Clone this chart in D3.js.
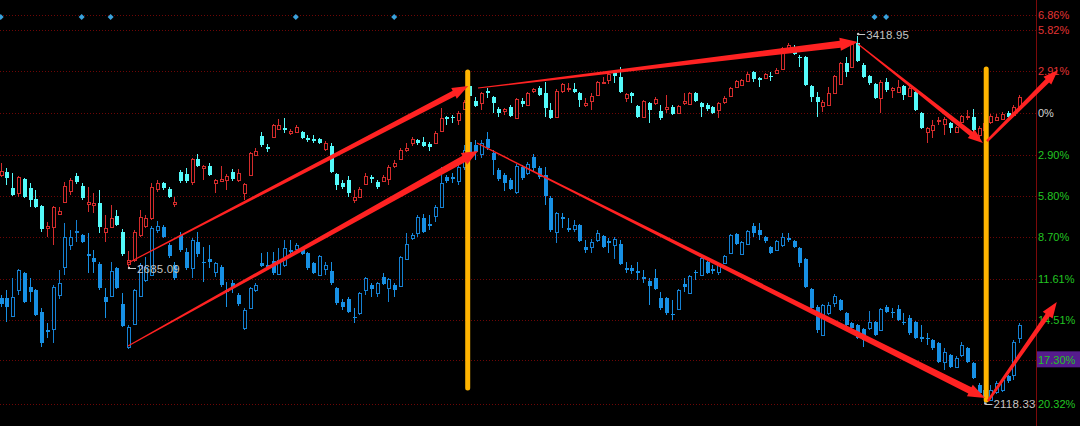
<!DOCTYPE html>
<html>
<head>
<meta charset="utf-8">
<script src="https://cdn.jsdelivr.net/npm/d3@7"></script>
<style>
html, body { margin: 0; padding: 0; background: #000; overflow: hidden; }
</style>
</head>
<body>
<div class="main-container"></div>
<script>
// upper index (red / cyan candles), points
var upO = [2977,2987,2936,2920,2965,2936,2901,2879,2809,2812,
  2853,2892,2927,2974,2942,2885,2882,2888,2796,2812,
  2847,2796,2695,2707,2787,2815,2841,2933,2952,2933,
  2885,2987,2981,2955,3028,3000,3006,2952,2958,2962,
  2987,2962,2920,2977,3041,3101,3066,3098,3124,3127,
  3111,3114,3114,3095,3092,3092,3060,3070,2981,2952,
  2962,2898,2907,2949,2971,2955,2958,2965,3006,3028,
  3057,3079,3089,3082,3076,3079,3117,3162,3162,3152,
  3187,3260,3212,3206,3244,3225,3187,3181,3193,3158,
  3212,3200,3244,3254,3238,3184,3162,3244,3251,3251,
  3238,3200,3212,3232,3270,3279,3301,3289,3222,3238,
  3197,3162,3206,3206,3181,3187,3193,3174,3206,3203,
  3238,3206,3200,3193,3184,3209,3228,3257,3263,3276,
  3305,3286,3286,3292,3301,3314,3381,3374,3352,3352,
  3260,3225,3197,3200,3238,3266,3333,3320,3397,3327,
  3292,3266,3222,3273,3247,3241,3260,3228,3241,3174,
  3114,3120,3149,3139,3143,3114,3146,3162,3162,3104,
  3120,3146,3152,3155,3174,3168,3190];
var upH = [3016,3000,2984,2974,2968,2952,2930,2882,2828,2879,
  2876,2955,2968,2984,2952,2939,2920,2930,2850,2882,
  2866,2806,2736,2803,2866,2850,2952,2962,2955,2939,
  2907,2993,3000,3031,3044,3009,3016,2965,3006,2981,
  2996,2996,2952,3050,3063,3114,3076,3139,3155,3158,
  3124,3136,3117,3104,3104,3095,3085,3079,2984,2962,
  2974,2930,2939,2984,2977,2962,2977,3009,3025,3063,
  3079,3098,3092,3098,3082,3117,3190,3165,3168,3181,
  3216,3279,3225,3241,3254,3228,3193,3190,3200,3222,
  3222,3241,3254,3260,3273,3206,3251,3270,3270,3270,
  3241,3222,3238,3276,3289,3305,3311,3320,3238,3241,
  3200,3216,3209,3225,3200,3232,3200,3200,3238,3241,
  3241,3209,3206,3197,3209,3228,3257,3279,3282,3305,
  3308,3289,3301,3305,3317,3384,3397,3390,3359,3355,
  3263,3241,3216,3257,3295,3336,3352,3397,3418.95,3333,
  3295,3270,3279,3286,3257,3279,3263,3260,3247,3178,
  3130,3152,3162,3162,3146,3133,3168,3184,3187,3133,
  3149,3171,3171,3178,3181,3200,3232];
var upL = [2971,2946,2911,2907,2904,2876,2873,2796,2780,2755,
  2850,2888,2914,2949,2898,2860,2857,2793,2765,2809,
  2815,2720,2685.09,2701,2780,2809,2834,2923,2930,2904,
  2876,2952,2952,2946,3003,2962,2974,2920,2955,2930,
  2958,2955,2898,2974,3038,3066,3050,3095,3120,3111,
  3104,3111,3092,3082,3079,3076,3054,2984,2930,2933,
  2907,2888,2904,2946,2952,2933,2955,2946,3000,3025,
  3050,3070,3073,3066,3054,3076,3114,3136,3143,3136,
  3184,3216,3193,3184,3222,3174,3162,3168,3162,3155,
  3193,3197,3238,3228,3162,3155,3158,3238,3241,3238,
  3193,3193,3184,3228,3266,3266,3270,3238,3209,3206,
  3158,3158,3143,3200,3152,3174,3168,3171,3200,3200,
  3209,3162,3181,3171,3158,3203,3225,3254,3260,3273,
  3273,3257,3282,3276,3298,3311,3374,3359,3320,3260,
  3209,3162,3178,3197,3235,3263,3289,3317,3336,3286,
  3263,3219,3174,3241,3222,3238,3216,3225,3181,3124,
  3079,3095,3136,3104,3111,3111,3143,3152,3114,3095,
  3095,3139,3149,3152,3158,3165,3187];
var upC = [2990,2968,2914,2971,2907,2898,2876,2806,2815,2876,
  2863,2942,2962,2955,2904,2892,2888,2812,2809,2841,
  2819,2726,2707,2796,2844,2841,2939,2952,2936,2907,
  2892,2958,2958,3028,3006,3006,2977,2962,2965,2974,
  2965,2984,2949,3047,3054,3073,3060,3136,3136,3120,
  3117,3130,3095,3089,3085,3079,3079,2987,2946,2939,
  2920,2907,2933,2974,2965,2939,2971,3003,3016,3057,
  3063,3092,3079,3070,3066,3111,3158,3155,3158,3174,
  3209,3228,3197,3238,3238,3206,3174,3187,3165,3219,
  3203,3238,3251,3232,3190,3158,3244,3266,3254,3241,
  3216,3206,3228,3273,3273,3298,3292,3241,3235,3228,
  3162,3212,3184,3219,3158,3193,3171,3197,3212,3238,
  3212,3193,3187,3174,3206,3222,3254,3276,3279,3298,
  3282,3279,3298,3289,3311,3381,3390,3362,3349,3263,
  3225,3209,3209,3238,3292,3333,3305,3394,3339,3289,
  3270,3222,3273,3247,3254,3257,3232,3254,3184,3127,
  3127,3136,3152,3155,3127,3130,3165,3165,3120,3127,
  3143,3165,3162,3171,3162,3193,3225];

// lower index (blue candles), points
var lowO = [2315,2315,2281,2330,2361,2335,2330,2289,2255,2257,
  2320,2372,2413,2437,2432,2397,2389,2378,2317,2318,
  2371,2304,2224,2266,2318,2348,2358,2441,2447,2413,
  2376,2432,2400,2371,2419,2382,2387,2363,2372,2330,
  2343,2320,2259,2296,2330,2380,2376,2384,2359,2376,
  2404,2406,2408,2398,2380,2358,2369,2365,2333,2307,
  2313,2279,2287,2330,2339,2324,2354,2333,2339,2337,
  2387,2426,2436,2463,2452,2467,2484,2540,2540,2532,
  2558,2605,2599,2582,2610,2584,2553,2543,2534,2512,
  2558,2547,2577,2556,2543,2501,2437,2465,2445,2443,
  2450,2410,2410,2423,2430,2421,2413,2415,2371,2371,
  2365,2354,2346,2352,2315,2315,2285,2294,2341,2324,
  2363,2358,2382,2369,2363,2380,2398,2434,2397,2415,
  2449,2441,2428,2410,2404,2413,2426,2421,2408,2387,
  2331,2298,2246,2287,2305,2311,2287,2268,2265,2257,
  2259,2270,2255,2298,2289,2294,2270,2278,2270,2242,
  2240,2237,2231,2196,2209,2186,2209,2222,2194,2153,
  2144,2125,2140,2144,2170,2172,2240];
var lowH = [2320,2330,2352,2369,2363,2352,2331,2296,2268,2339,
  2367,2454,2441,2460,2434,2436,2404,2382,2333,2382,
  2372,2324,2265,2331,2380,2391,2449,2458,2450,2417,
  2382,2437,2408,2426,2437,2410,2413,2382,2376,2345,
  2348,2324,2296,2335,2343,2398,2400,2400,2408,2423,
  2423,2417,2410,2400,2382,2395,2382,2382,2335,2313,
  2317,2296,2326,2354,2343,2345,2361,2352,2343,2393,
  2436,2436,2469,2471,2469,2488,2558,2543,2547,2562,
  2599,2622,2608,2608,2623,2590,2556,2547,2538,2564,
  2562,2568,2582,2560,2558,2504,2475,2473,2463,2460,
  2452,2423,2424,2441,2432,2426,2428,2423,2382,2376,
  2382,2367,2352,2369,2326,2317,2311,2331,2352,2357,
  2367,2391,2384,2376,2380,2395,2434,2436,2421,2441,
  2454,2454,2430,2411,2423,2436,2436,2423,2410,2389,
  2333,2302,2304,2307,2322,2313,2289,2270,2266,2259,
  2291,2272,2296,2302,2296,2302,2287,2283,2272,2265,
  2250,2239,2233,2222,2211,2207,2233,2224,2196,2157,
  2147,2153,2160,2166,2172,2237,2268];
var lowL = [2298,2270,2279,2320,2305,2307,2281,2224,2240,2231,
  2313,2357,2404,2419,2417,2361,2361,2330,2278,2317,
  2331,2261,2220,2265,2317,2345,2356,2436,2426,2389,
  2348,2400,2367,2352,2391,2345,2371,2354,2335,2298,
  2324,2300,2255,2294,2326,2372,2371,2358,2358,2372,
  2391,2404,2395,2367,2359,2356,2358,2339,2302,2292,
  2287,2268,2283,2320,2317,2317,2339,2307,2317,2335,
  2385,2423,2428,2436,2441,2456,2482,2529,2529,2525,
  2553,2571,2571,2575,2590,2543,2532,2514,2516,2508,
  2534,2543,2549,2536,2488,2437,2417,2445,2437,2437,
  2419,2398,2398,2419,2408,2398,2387,2376,2361,2359,
  2348,2343,2302,2330,2292,2283,2274,2292,2326,2322,
  2348,2356,2359,2359,2358,2378,2397,2413,2395,2413,
  2428,2423,2417,2397,2402,2410,2419,2408,2372,2333,
  2294,2250,2244,2283,2298,2291,2263,2252,2239,2224,
  2255,2244,2253,2287,2278,2272,2265,2246,2239,2233,
  2227,2218,2194,2181,2185,2185,2205,2194,2164,2134,
  2118.33,2123,2136,2140,2157,2162,2231];
var lowC = [2304,2298,2317,2367,2307,2326,2283,2231,2252,2335,
  2343,2428,2428,2439,2419,2393,2382,2333,2307,2365,
  2333,2263,2261,2330,2376,2372,2445,2449,2428,2393,
  2352,2404,2371,2423,2397,2380,2382,2380,2339,2326,
  2333,2304,2292,2333,2339,2374,2372,2361,2385,2408,
  2400,2413,2397,2371,2361,2393,2376,2343,2305,2298,
  2289,2278,2324,2352,2331,2343,2341,2350,2330,2391,
  2415,2432,2465,2437,2449,2484,2529,2532,2536,2558,
  2590,2581,2586,2603,2594,2571,2536,2529,2517,2560,
  2538,2564,2556,2540,2504,2441,2473,2462,2441,2450,
  2421,2404,2419,2436,2410,2417,2424,2378,2367,2365,
  2361,2350,2337,2331,2296,2287,2283,2330,2335,2356,
  2361,2389,2361,2365,2376,2393,2432,2415,2419,2439,
  2436,2432,2421,2398,2421,2428,2423,2410,2380,2335,
  2296,2255,2302,2302,2318,2292,2265,2259,2240,2237,
  2270,2246,2294,2289,2287,2274,2268,2250,2240,2239,
  2239,2222,2196,2214,2186,2203,2227,2196,2166,2138,
  2129,2144,2157,2162,2160,2233,2265];
var lowBase = 2658.6;   // lower index at 0%

// right axis (percent)
var pctTicks = [6.86, 5.82, 2.91, 0, -2.90, -5.80, -8.70, -11.61, -14.51, -17.30, -20.32];
var currentPct = -17.30;

// event markers (candle index)
var markerIdx = [0, 14, 19, 51, 68, 151, 153];

// extreme labels
var upHighMark = { i: 148, v: 3418.95 };
var upLowMark = { i: 22, v: 2685.09 };
var lowLowMark = { i: 170, v: 2118.33 };

// drawn annotations: [index, pctTop, pctBottom]
var vLines = [[80.7, 2.87, -19.24], [170.3, 3.08, -20.08]];
// arrows: [i0, pct0, i1, pct1, w0, w1, headLen, headWidth]
var arrows = [
  [21.99, -10.49, 80.79, 1.89, 1, 6, 16, 12],
  [22.0, -16.30, 82.48, -2.65, 1, 7, 16, 13],
  [82.48, 1.75, 148.14, 4.97, 1, 7, 18, 13],
  [148.14, 4.83, 169.74, -2.10, 1, 5, 15, 11],
  [170.44, -1.96, 182.7, 3.01, 2.5, 5, 15, 11],
  [82.3, -2.10, 170.1, -19.94, 1, 7, 17, 13],
  [170.6, -20.14, 182.5, -13.22, 2.5, 5, 16, 12]
];

var W = 1080, H = 426, axisX = 1036;
var font = "Liberation Sans, Arial, sans-serif";

var svg = d3.select(".main-container").append("svg")
    .attr("width", W).attr("height", H)
    .style("display", "block").style("background", "#000");

var x = d3.scaleLinear().domain([0, upO.length - 1]).range([0.7, 1019.2]);
var yPct = d3.scaleLinear().domain([-20.32, 6.86]).range([403.5, 15]);
var yUp = d3.scaleLinear().domain([2685.09, 3418.95]).range([267, 36]);
var yLow = d3.scaleLinear()
    .domain([lowBase * (1 - 0.2032), lowBase * (1 + 0.0686)])
    .range(yPct.range());

// grid
svg.append("g").selectAll("line").data(pctTicks).enter().append("line")
    .attr("x1", 0).attr("x2", axisX)
    .attr("y1", function (d) { return Math.round(yPct(d)) + 0.5; })
    .attr("y2", function (d) { return Math.round(yPct(d)) + 0.5; })
    .attr("stroke", "#6e0606").attr("stroke-dasharray", "1,2");

svg.append("line").attr("x1", axisX + 0.5).attr("x2", axisX + 0.5)
    .attr("y1", 0).attr("y2", H).attr("stroke", "#7c0a0a");

// current value box
svg.append("rect").attr("x", axisX + 1).attr("y", yPct(currentPct) - 9)
    .attr("width", W - axisX - 1).attr("height", 16).attr("fill", "#561c8e");

svg.append("g").selectAll("text").data(pctTicks).enter().append("text")
    .attr("x", axisX + 2).attr("y", function (d) { return yPct(d) + 4; })
    .attr("font-family", font).attr("font-size", 11)
    .attr("fill", function (d) { return d > 0 ? "#e23434" : (d === 0 ? "#d4d4d4" : "#22c422"); })
    .text(function (d) { return d === 0 ? "0%" : Math.abs(d).toFixed(2) + "%"; });

function drawCandles(O, Hh, L, C, y, upCol, downCol) {
  var g = svg.append("g").attr("shape-rendering", "crispEdges");
  var idx = d3.range(O.length);
  var c = g.selectAll("g").data(idx).enter().append("g");
  c.append("line")
      .attr("x1", function (i) { return Math.round(x(i)) + 0.5; })
      .attr("x2", function (i) { return Math.round(x(i)) + 0.5; })
      .attr("y1", function (i) { return y(Hh[i]); })
      .attr("y2", function (i) { return y(L[i]); })
      .attr("stroke", function (i) { return C[i] >= O[i] ? upCol : downCol; });
  c.append("rect")
      .attr("x", function (i) { return C[i] >= O[i] ? Math.round(x(i)) - 1 : Math.round(x(i)) - 1.5; })
      .attr("y", function (i) {
        var t = Math.round(y(Math.max(O[i], C[i])));
        return C[i] >= O[i] ? t + 0.5 : t;
      })
      .attr("width", function (i) { return C[i] >= O[i] ? 3 : 4; })
      .attr("height", function (i) {
        var h = Math.round(y(Math.min(O[i], C[i]))) - Math.round(y(Math.max(O[i], C[i])));
        return Math.max(h, 1);
      })
      .attr("fill", function (i) { return C[i] >= O[i] ? "#000" : downCol; })
      .attr("stroke", function (i) { return C[i] >= O[i] ? upCol : "none"; });
}

drawCandles(upO, upH, upL, upC, yUp, "#d42c2c", "#54fafa");
drawCandles(lowO, lowH, lowL, lowC, yLow, "#1580d2", "#1790e4");

// markers
svg.append("g").selectAll("path").data(markerIdx).enter().append("path")
    .attr("d", d3.symbol(d3.symbolSquare, 18))
    .attr("transform", function (i) { return "translate(" + x(i) + "," + yPct(6.72) + ") rotate(45)"; })
    .attr("fill", "#3aa2dc");

// extreme labels
function priceLabel(i, yy, txt) {
  var px = x(i);
  svg.append("circle").attr("cx", px + 1).attr("cy", yy).attr("r", 1.2).attr("fill", "#c8c8c8");
  svg.append("line").attr("x1", px + 1).attr("x2", px + 8)
      .attr("y1", Math.round(yy) + 0.5).attr("y2", Math.round(yy) + 0.5).attr("stroke", "#c8c8c8");
  svg.append("text").attr("x", px + 9).attr("y", yy + 4.5)
      .attr("font-family", font).attr("font-size", 11.5).attr("letter-spacing", 0.2)
      .attr("fill", "#c4c4c4").text(txt);
}
priceLabel(upHighMark.i, yUp(upHighMark.v) - 2, upHighMark.v.toFixed(2));
priceLabel(upLowMark.i, yUp(upLowMark.v) + 1, upLowMark.v.toFixed(2));
priceLabel(lowLowMark.i, yLow(lowLowMark.v), lowLowMark.v.toFixed(2));

// vertical marker lines
svg.append("g").selectAll("line").data(vLines).enter().append("line")
    .attr("x1", function (d) { return x(d[0]); }).attr("x2", function (d) { return x(d[0]); })
    .attr("y1", function (d) { return yPct(d[1]); }).attr("y2", function (d) { return yPct(d[2]); })
    .attr("stroke", "#ffb400").attr("stroke-width", 5).attr("stroke-linecap", "round");

// tapered arrows
function arrowPath(a) {
  var x0 = x(a[0]), y0 = yPct(a[1]), x1 = x(a[2]), y1 = yPct(a[3]);
  var w0 = a[4], w1 = a[5], hl = a[6], hw = a[7];
  var dx = x1 - x0, dy = y1 - y0, len = Math.sqrt(dx * dx + dy * dy);
  var ux = dx / len, uy = dy / len, nx = -uy, ny = ux;
  var bx = x1 - ux * hl, by = y1 - uy * hl;
  var pts = [
    [x0 + nx * w0 / 2, y0 + ny * w0 / 2],
    [bx + nx * w1 / 2, by + ny * w1 / 2],
    [bx + nx * hw / 2, by + ny * hw / 2],
    [x1, y1],
    [bx - nx * hw / 2, by - ny * hw / 2],
    [bx - nx * w1 / 2, by - ny * w1 / 2],
    [x0 - nx * w0 / 2, y0 - ny * w0 / 2]
  ];
  return d3.line()(pts) + "Z";
}
svg.append("g").selectAll("path").data(arrows).enter().append("path")
    .attr("d", arrowPath).attr("fill", "#ff2222");
</script>
</body>
</html>
